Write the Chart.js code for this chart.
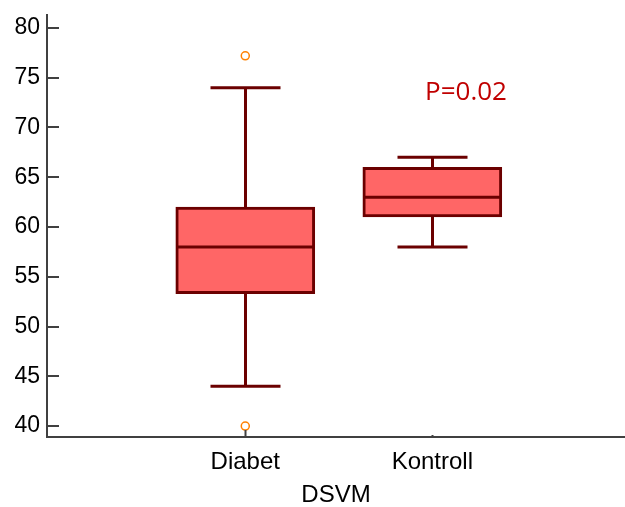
<!DOCTYPE html>
<html>
<head>
<meta charset="utf-8">
<script src="https://cdn.jsdelivr.net/npm/chart.js@4/dist/chart.umd.min.js"></script>
<style>
html,body{margin:0;padding:0;background:#fff;overflow:hidden;}
canvas{display:block;}
</style>
</head>
<body>
<canvas id="c" width="625" height="507" style="width:625px;height:507px;"></canvas>
<script>
const categories = ['Diabet', 'Kontroll'];
const categoryPositions = [1, 2];
const whiskerLow = [44, 58];
const q1 = [53.3, 61];
const median = [58, 63];
const q3 = [62, 66];
const whiskerHigh = [74, 67];
const outlierValues = [[77.2, 40], []];
const yTicks = [40, 45, 50, 55, 60, 65, 70, 75, 80];
const xTitle = 'DSVM';
const pLabel = 'P=0.02';
const pLabelPos = {x: 2.18, y: 73.5};

const axisColor = '#404040';
const boxFill = '#FF6666';
const boxLine = '#6B0000';
const outlierColor = '#FF8000';
const labelFont = '"Liberation Sans", Arial, sans-serif';

const boxData = categoryPositions.map((x, i) => ({x: x, y: [q1[i], q3[i]]}));
const outlierData = [];
categoryPositions.forEach((x, i) => outlierValues[i].forEach(v => outlierData.push({x: x, y: v})));

const boxPlugin = {
  id: 'boxExtras',
  afterDatasetsDraw(chart) {
    const ctx = chart.ctx;
    const xs = chart.scales.x, ys = chart.scales.y;
    const half = 69.5, capHalf = 35;
    ctx.save();
    ctx.strokeStyle = boxLine;
    ctx.lineWidth = 3;
    categoryPositions.forEach((p, i) => {
      const cx = Math.round(xs.getPixelForValue(p)) + 0.5;
      const yLo = ys.getPixelForValue(whiskerLow[i]);
      const yHi = ys.getPixelForValue(whiskerHigh[i]);
      const yQ1 = ys.getPixelForValue(q1[i]);
      const yQ3 = ys.getPixelForValue(q3[i]);
      const yMed = ys.getPixelForValue(median[i]);
      ctx.beginPath();
      ctx.moveTo(cx, yHi); ctx.lineTo(cx, yQ3);
      ctx.moveTo(cx, yQ1); ctx.lineTo(cx, yLo);
      ctx.moveTo(cx - capHalf, yHi); ctx.lineTo(cx + capHalf, yHi);
      ctx.moveTo(cx - capHalf, yLo); ctx.lineTo(cx + capHalf, yLo);
      ctx.moveTo(cx - half, yMed); ctx.lineTo(cx + half, yMed);
      ctx.stroke();
    });
    // inward ticks
    ctx.strokeStyle = axisColor;
    ctx.lineWidth = 2;
    const left = chart.chartArea.left, bottom = chart.chartArea.bottom;
    ctx.beginPath();
    yTicks.forEach(v => {
      const y = Math.round(ys.getPixelForValue(v));
      ctx.moveTo(left, y); ctx.lineTo(left + 12, y);
    });
    categoryPositions.forEach((p, i) => {
      const x = Math.round(xs.getPixelForValue(p)) + 0.5;
      ctx.moveTo(x, bottom); ctx.lineTo(x, bottom - (i === 0 ? 7 : 2));
    });
    ctx.stroke();
    // p-value label
    ctx.fillStyle = '#C00000';
    ctx.font = '26px "Open Sans", "Noto Sans", sans-serif';
    ctx.textAlign = 'center';
    ctx.textBaseline = 'middle';
    ctx.fillText(pLabel, xs.getPixelForValue(pLabelPos.x), ys.getPixelForValue(pLabelPos.y));
    ctx.restore();
  }
};

new Chart(document.getElementById('c'), {
  type: 'bar',
  data: {
    datasets: [
      {
        type: 'bar',
        data: boxData,
        backgroundColor: boxFill,
        borderColor: boxLine,
        borderWidth: 3,
        borderSkipped: false,
        barThickness: 139,
        order: 2
      },
      {
        type: 'scatter',
        data: outlierData,
        pointStyle: 'circle',
        pointRadius: 4,
        pointBorderWidth: 1.5,
        borderColor: outlierColor,
        backgroundColor: '#ffffff',
        clip: false,
        order: 1
      }
    ]
  },
  options: {
    responsive: false,
    animation: false,
    devicePixelRatio: 1,
    layout: {autoPadding: false, padding: {top: 15, right: 0, left: 0, bottom: 0}},
    plugins: {legend: {display: false}, tooltip: {enabled: false}},
    scales: {
      x: {
        type: 'linear',
        min: -0.06,
        max: 3.03,
        offset: false,
        afterBuildTicks: s => { s.ticks = categoryPositions.map(v => ({value: v})); },
        afterFit: s => { s.height = 70; s.paddingLeft = 0; s.paddingRight = 0; },
        grid: {display: false, drawTicks: false},
        border: {display: true, color: axisColor, width: 2},
        ticks: {
          color: '#000',
          font: {family: labelFont, size: 24},
          padding: 11,
          maxRotation: 0,
          callback: v => { const i = categoryPositions.indexOf(v); return i >= 0 ? categories[i] : ''; }
        },
        title: {
          display: true, text: xTitle, color: '#000',
          font: {family: labelFont, size: 24},
          padding: {top: 6, bottom: -3}
        }
      },
      y: {
        min: 38.9,
        max: 81.3,
        afterBuildTicks: s => { s.ticks = yTicks.map(v => ({value: v})); },
        afterFit: s => { s.width = 47; s.paddingTop = 0; s.paddingBottom = 0; },
        grid: {display: false, drawTicks: false},
        border: {display: true, color: axisColor, width: 2},
        ticks: {
          color: '#000',
          font: {family: labelFont, size: 23},
          padding: 7
        }
      }
    }
  },
  plugins: [boxPlugin]
});
</script>
</body>
</html>
